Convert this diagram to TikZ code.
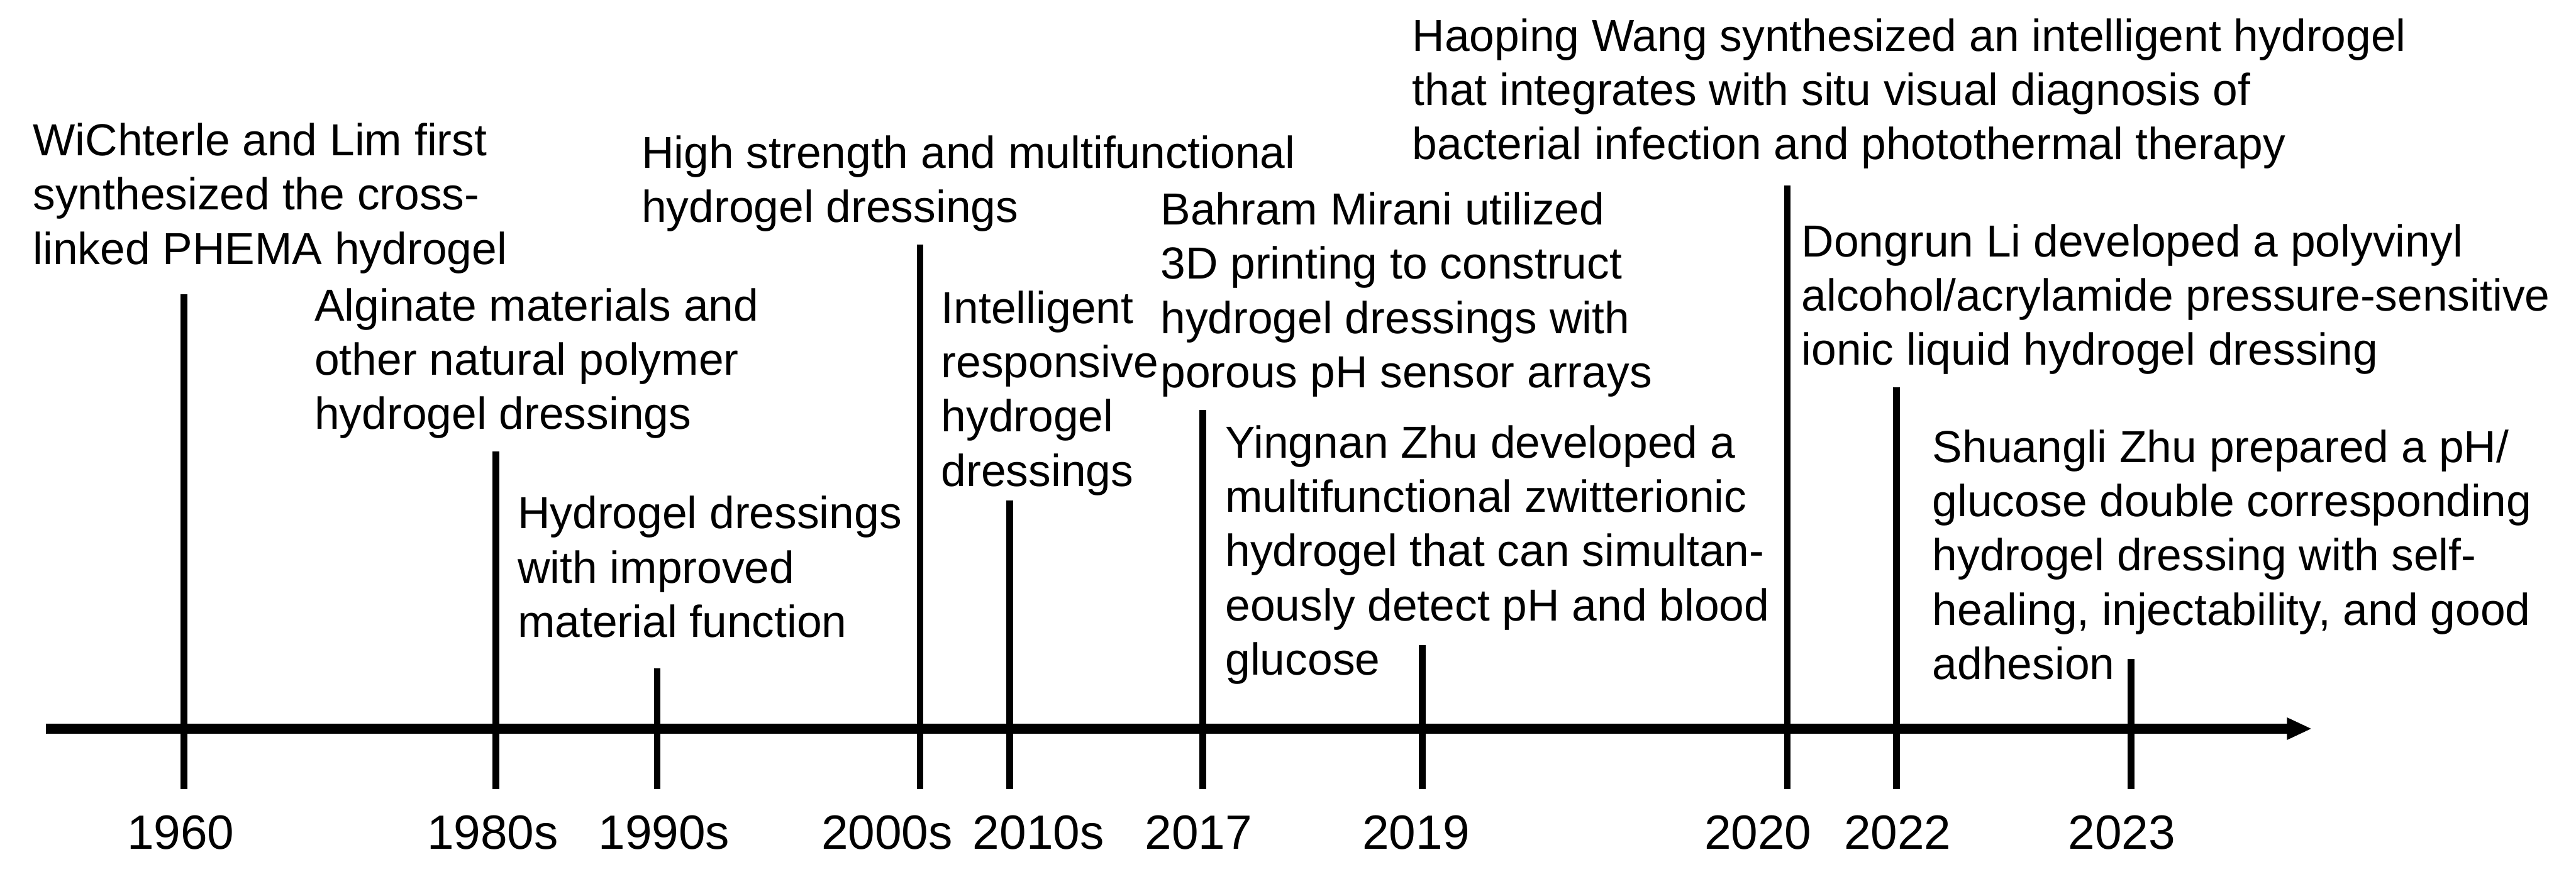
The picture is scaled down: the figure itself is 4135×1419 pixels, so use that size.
\documentclass[tikz,border=0pt]{standalone}
\usepackage{fontspec}
\setmainfont{Liberation Sans}
\usetikzlibrary{arrows.meta}
\begin{document}
\begin{tikzpicture}[x=0.1mm,y=-0.1mm,
  desc/.style={anchor=north west, inner sep=0pt, outer sep=0pt, align=left, yshift=17.36pt,
    font=\fontsize{20.5}{24.8}\selectfont},
  yr/.style={anchor=base, inner sep=0pt, font=\fontsize{22}{26}\selectfont},
  tickline/.style={line width=3.1pt, line cap=butt},
  axisline/.style={line width=4.8pt, -{Triangle[length=4mm,width=3.3mm]}}]
\useasboundingbox (0,0) rectangle (4135,1419);
% ticks
\foreach \n/\x/\t in {1/295/472, 2/796/725, 3/1055/1073, 4/1477/393, 5/1621/804,
                      6/1931/658, 7/2283/1036, 8/2869/298, 9/3044/622, 10/3421/1058}{
  \coordinate (k\n) at (\x,\t);
  \coordinate (b\n) at (\x,1267);
  \draw[tickline] (k\n) -- (b\n);
}
% axis
\coordinate (axs) at (74,1170);
\coordinate (axe) at (3711,1170);
\draw[axisline] (axs) -- (axe);
% year labels
\node[yr] (y1960) at (290,1363) {1960};
\node[yr] (y1980) at (791,1363) {1980s};
\node[yr] (y1990) at (1066,1363) {1990s};
\node[yr] (y2000) at (1424,1363) {2000s};
\node[yr] (y2010) at (1667,1363) {2010s};
\node[yr] (y2017) at (1924,1363) {2017};
\node[yr] (y2019) at (2273,1363) {2019};
\node[yr] (y2020) at (2822,1363) {2020};
\node[yr] (y2022) at (3046,1363) {2022};
\node[yr] (y2023) at (3406,1363) {2023};
% descriptions
\node[desc] (t1) at (53,250) {\strut WiChterle and Lim first\\synthesized the cross-\\linked PHEMA hydrogel};
\node[desc] (t2) at (505,515) {\strut Alginate materials and\\other natural polymer\\hydrogel dressings};
\node[desc] (t3) at (1030,270) {\strut High strength and multifunctional\\hydrogel dressings};
\node[desc] (t4) at (831,849) {\strut Hydrogel dressings\\with improved\\material function};
\node[desc] (t5) at (1511,519) {\strut Intelligent\\responsive\\hydrogel\\dressings};
\node[desc] (t6) at (1863,361) {\strut Bahram Mirani utilized\\3D printing to construct\\hydrogel dressings with\\porous pH sensor arrays};
\node[desc] (t7) at (1967,735) {\strut Yingnan Zhu developed a\\multifunctional zwitterionic\\hydrogel that can simultan-\\eously detect pH and blood\\glucose};
\node[desc] (t8) at (2267,82) {\strut Haoping Wang synthesized an intelligent hydrogel\\that integrates with situ visual diagnosis of\\bacterial infection and photothermal therapy};
\node[desc] (t9) at (2892,412) {\strut Dongrun Li developed a polyvinyl\\alcohol/acrylamide pressure-sensitive\\ionic liquid hydrogel dressing};
\node[desc] (t10) at (3102,742) {\strut Shuangli Zhu prepared a pH/\\glucose double corresponding\\hydrogel dressing with self-\\healing, injectability, and good\\adhesion};
\end{tikzpicture}
\end{document}
